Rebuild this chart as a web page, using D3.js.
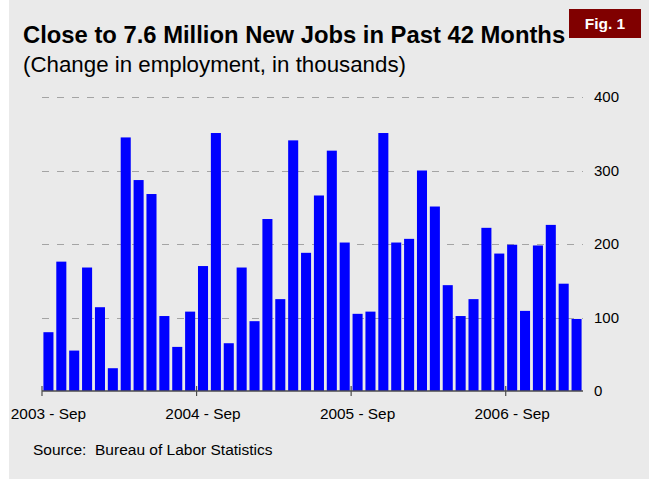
<!DOCTYPE html>
<html>
<head>
<meta charset="utf-8">
<script src="https://cdn.jsdelivr.net/npm/d3@7"></script>
<style>
  body { margin: 0; background: #fff; }
  svg text { font-family: "Liberation Sans", Arial, sans-serif; }
</style>
</head>
<body>
<div id="chart"></div>
<script>
// monthly change in payroll employment (thousands), Sep 2003 - Feb 2007
const months = [
    "2003-09", "2003-10", "2003-11", "2003-12", "2004-01", "2004-02", "2004-03", "2004-04", "2004-05", "2004-06", "2004-07", "2004-08",
    "2004-09", "2004-10", "2004-11", "2004-12", "2005-01", "2005-02", "2005-03", "2005-04", "2005-05", "2005-06", "2005-07", "2005-08",
    "2005-09", "2005-10", "2005-11", "2005-12", "2006-01", "2006-02", "2006-03", "2006-04", "2006-05", "2006-06", "2006-07", "2006-08",
    "2006-09", "2006-10", "2006-11", "2006-12", "2007-01", "2007-02"
];
const jobs = [
    80, 176, 55, 168, 114, 31, 345, 287, 268, 102, 60, 108,
    170, 351, 65, 168, 95, 234, 125, 341, 188, 266, 327, 202,
    105, 108, 351, 202, 207, 300, 251, 144, 102, 125, 222, 187,
    199, 109, 198, 226, 146, 98
];
const tickMonths = ["2003-09", "2004-09", "2005-09", "2006-09"];
const tickLabels = ["2003 - Sep", "2004 - Sep", "2005 - Sep", "2006 - Sep"];
const yTicks = [0, 100, 200, 300, 400];

const width = 649, height = 483;
const margin = { top: 97, right: 66, bottom: 92, left: 42 };
const barColor = "#0000ff";
const bgColor = "#eaeaea";

const svg = d3.select("#chart").append("svg")
    .attr("width", width)
    .attr("height", height);

// panel
svg.append("rect")
    .attr("x", 9).attr("y", 0)
    .attr("width", width - 9).attr("height", 479)
    .attr("fill", bgColor);

const x = d3.scaleBand()
    .domain(months)
    .range([margin.left, width - margin.right])
    .paddingInner(0.22)
    .paddingOuter(0.11);

const y = d3.scaleLinear()
    .domain([0, 400])
    .range([height - margin.bottom, margin.top]);

// gridlines
svg.append("g")
    .selectAll("line")
    .data(yTicks.filter(d => d > 0))
    .join("line")
    .attr("x1", margin.left)
    .attr("x2", width - margin.right)
    .attr("y1", d => Math.round(y(d)) + 0.5)
    .attr("y2", d => Math.round(y(d)) + 0.5)
    .attr("stroke", "#a4a4a4")
    .attr("stroke-width", 1.2)
    .attr("stroke-dasharray", "7,8");

// bars
svg.append("g")
    .selectAll("rect")
    .data(jobs)
    .join("rect")
    .attr("x", (d, i) => x(months[i]))
    .attr("width", x.bandwidth())
    .attr("y", d => y(d))
    .attr("height", d => y(0) - y(d))
    .attr("fill", barColor);

// right value axis, labels only
const yAxis = d3.axisRight(y)
    .tickValues(yTicks)
    .tickSize(0)
    .tickPadding(11);
const yG = svg.append("g")
    .attr("transform", `translate(${width - margin.right}, 0)`)
    .call(yAxis);
yG.select(".domain").remove();
yG.selectAll("text")
    .attr("font-size", 15)
    .attr("font-family", "Liberation Sans, Arial, sans-serif")
    .attr("fill", "#000");

// x axis line + year ticks at left edge of each Sep bar
const base = y(0);
const step = x.step();
const edge = m => x(m) - x.paddingInner() * step / 2;

svg.append("line")
    .attr("x1", margin.left).attr("x2", width - margin.right)
    .attr("y1", base).attr("y2", base)
    .attr("stroke", "#4d4d4d")
    .attr("stroke-width", 1.5);

svg.append("g")
    .selectAll("line")
    .data(tickMonths)
    .join("line")
    .attr("x1", d => edge(d)).attr("x2", d => edge(d))
    .attr("y1", base - 5).attr("y2", base + 5)
    .attr("stroke", "#4d4d4d")
    .attr("stroke-width", 1.2);

svg.append("g")
    .selectAll("text")
    .data(tickMonths)
    .join("text")
    .attr("x", d => x(d) + x.bandwidth() / 2)
    .attr("y", 419)
    .attr("text-anchor", "middle")
    .attr("font-size", 15.4)
    .attr("fill", "#000")
    .text((d, i) => tickLabels[i]);

// titles
svg.append("text")
    .attr("x", 23).attr("y", 43)
    .attr("font-size", 23.8)
    .attr("font-weight", "bold")
    .attr("fill", "#000")
    .text("Close to 7.6 Million New Jobs in Past 42 Months");

svg.append("text")
    .attr("x", 23).attr("y", 72)
    .attr("font-size", 22.3)
    .attr("fill", "#000")
    .text("(Change in employment, in thousands)");

// figure badge
svg.append("rect")
    .attr("x", 569).attr("y", 9)
    .attr("width", 72).attr("height", 29)
    .attr("fill", "#800000");
svg.append("text")
    .attr("x", 605).attr("y", 28.5)
    .attr("text-anchor", "middle")
    .attr("font-size", 15.5)
    .attr("font-weight", "bold")
    .attr("fill", "#fff")
    .text("Fig. 1");

// source
svg.append("text")
    .attr("x", 33).attr("y", 455)
    .attr("font-size", 15.5)
    .attr("fill", "#000")
    .style("white-space", "pre")
    .text("Source:  Bureau of Labor Statistics");
</script>
</body>
</html>
